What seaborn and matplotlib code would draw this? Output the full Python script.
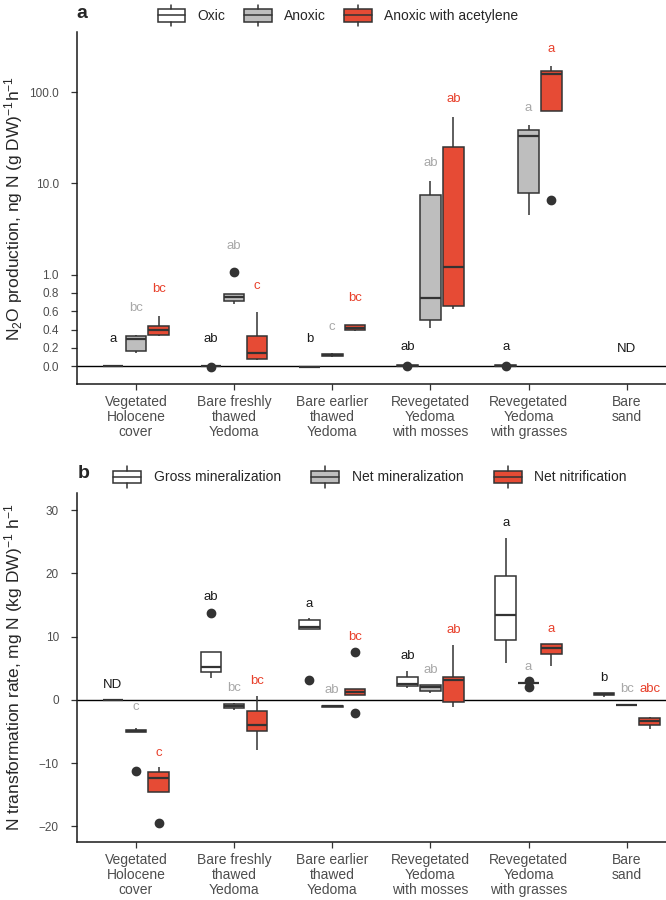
import numpy as np
import pandas as pd
import seaborn as sns
import matplotlib.pyplot as plt
from matplotlib.legend_handler import HandlerBase
from matplotlib.patches import Rectangle, Patch
from matplotlib.lines import Line2D
from matplotlib.ticker import FixedLocator, NullLocator

sites = ["Vegetated\nHolocene\ncover", "Bare freshly\nthawed\nYedoma",
         "Bare earlier\nthawed\nYedoma", "Revegetated\nYedoma\nwith mosses",
         "Revegetated\nYedoma\nwith grasses", "Bare\nsand"]

# panel a: N2O production, ng N (g DW)-1 h-1 (bare sand not determined)
n2o_groups = ["Oxic", "Anoxic", "Anoxic with acetylene"]
n2o_oxic = [[0.004, 0.004, 0.005, 0.005, 0.006],
            [-0.01, 0.003, 0.004, 0.005, 0.006],
            [-0.016, -0.015, -0.014, -0.013, -0.012],
            [0.0, 0.004, 0.005, 0.006, 0.007],
            [0.0, 0.004, 0.005, 0.006, 0.007],
            []]
n2o_anoxic = [[0.14, 0.164, 0.30, 0.325, 0.336],
              [0.68, 0.71, 0.76, 0.788, 1.06],
              [0.10, 0.11, 0.12, 0.131, 0.14],
              [0.42, 0.50, 0.741, 7.4, 10.7],
              [4.47, 7.9, 33.0, 38.2, 43.3],
              []]
n2o_acetylene = [[0.33, 0.336, 0.394, 0.44, 0.55],
                 [0.07, 0.077, 0.146, 0.329, 0.588],
                 [0.387, 0.39, 0.42, 0.446, 0.45],
                 [0.63, 0.66, 1.22, 25.0, 53.9],
                 [6.58, 62.5, 158.0, 170.0, 193.0],
                 []]
n2o_letters = [["a", "ab", "b", "ab", "a", ""],
               ["bc", "ab", "c", "ab", "a", ""],
               ["bc", "c", "bc", "ab", "a", ""]]
n2o_letter_y = [[0.30, 0.30, 0.30, 0.21, 0.21, 0],
                [0.635, 2.08, 0.43, 16.9, 66.5, 0],
                [0.843, 0.88, 0.748, 84.7, 296.0, 0]]

# panel b: N transformation rate, mg N (kg DW)-1 h-1
ntr_groups = ["Gross mineralization", "Net mineralization", "Net nitrification"]
ntr_gross = [[0, 0, 0, 0, 0],
             [3.42, 4.37, 5.16, 7.53, 13.8],
             [3.16, 11.21, 11.58, 12.63, 12.9],
             [1.84, 2.11, 2.47, 3.58, 4.63],
             [5.79, 9.53, 13.42, 19.53, 25.6],
             [0.42, 0.68, 0.9, 1.05, 1.05]]
ntr_netmin = [[-11.3, -5.17, -5.0, -4.85, -4.53],
              [-1.6, -1.31, -0.95, -0.68, -0.5],
              [-1.1, -1.07, -1.05, -1.03, -1.0],
              [1.05, 1.32, 2.0, 2.37, 2.4],
              [2.0, 2.6, 2.6, 2.6, 2.9],
              [-0.82, -0.8, -0.79, -0.78, -0.76]]
ntr_nitr = [[-19.5, -14.6, -12.4, -11.5, -10.7],
            [-7.9, -5.0, -4.05, -1.74, 0.53],
            [-2.1, 0.68, 1.3, 1.74, 7.63],
            [-1.16, -0.42, 3.05, 3.68, 8.68],
            [5.42, 7.26, 8.16, 8.79, 8.8],
            [-4.63, -3.95, -3.42, -2.89, -2.74]]
ntr_letters = [["ND", "ab", "a", "ab", "a", "b"],
               ["c", "bc", "ab", "ab", "a", "bc"],
               ["c", "bc", "bc", "ab", "a", "abc"]]
ntr_letter_y = [[2.26, 16.2, 15.2, 6.95, 28.0, 3.42],
                [-1.1, 1.84, 1.58, 4.74, 5.26, 1.68],
                [-8.4, 2.9, 10.0, 11.05, 11.2, 1.68]]

fills = ["#FFFFFF", "#BEBEBE", "#E64B35"]
text_cols = ["#1A1A1A", "#A8A8A8", "#E8412C"]
EDGE = "#333333"


def long_table(groups, series):
    rows = []
    for g, vals in zip(groups, series):
        for site, v in zip(sites, vals):
            for x in v:
                rows.append({"site": site, "group": g, "value": x})
    return pd.DataFrame(rows)


# linear below 1, log10 above
def fwd(v):
    v = np.asarray(v, dtype=float)
    return np.where(v <= 1, v, 1 + np.log10(np.maximum(v, 1)))


def inv(t):
    t = np.asarray(t, dtype=float)
    return np.where(t <= 1, t, 10 ** (np.minimum(t, 10) - 1))


class BoxKey(HandlerBase):
    def create_artists(self, legend, orig, xd, yd, w, h, fs, trans):
        x0, y0 = -xd, -yd
        cx = x0 + w / 2
        kw = dict(color=EDGE, lw=1.1, transform=trans)
        return [Rectangle((x0, y0 + 0.2 * h), w, 0.6 * h, facecolor=orig.get_facecolor(),
                          edgecolor=EDGE, lw=1.1, transform=trans),
                Line2D([x0, x0 + w], [y0 + h / 2] * 2, **kw),
                Line2D([cx, cx], [y0 + 0.8 * h, y0 + h], **kw),
                Line2D([cx, cx], [y0, y0 + 0.2 * h], **kw)]


sns.set_style("ticks")
plt.rcParams["font.family"] = ["Liberation Sans", "DejaVu Sans"]
plt.rcParams["mathtext.fontset"] = "custom"
plt.rcParams["mathtext.rm"] = "Liberation Sans"
plt.rcParams["mathtext.it"] = "Liberation Sans:italic"

fig = plt.figure(figsize=(6.66, 9), dpi=100)
ax_a = fig.add_axes([77 / 666, 0.5733, 589 / 666, 0.3911])
ax_b = fig.add_axes([77 / 666, 0.0644, 589 / 666, 0.3878])

box_kw = dict(x="site", y="value", hue="group", order=sites, width=0.7, gap=0.1,
              linecolor=EDGE, linewidth=1.1, fliersize=6, legend=False,
              saturation=1, showcaps=False,
              flierprops=dict(marker="o", markerfacecolor=EDGE, markeredgecolor=EDGE),
              medianprops=dict(linewidth=1.6, color=EDGE))

panels = [
    (ax_a, n2o_groups, [n2o_oxic, n2o_anoxic, n2o_acetylene], n2o_letters, n2o_letter_y),
    (ax_b, ntr_groups, [ntr_gross, ntr_netmin, ntr_nitr], ntr_letters, ntr_letter_y),
]

ax_a.set_yscale("function", functions=(fwd, inv))

for ax, groups, series, letters, letter_y in panels:
    df = long_table(groups, series)
    sns.boxplot(data=df, hue_order=groups, palette=dict(zip(groups, fills)), ax=ax, **box_kw)
    ax.axhline(0, color="black", lw=1.0, zorder=0.5)
    ax.set_xlim(-0.6, len(sites) - 0.6)
    slot = 0.7 / 3
    for gi in range(3):
        for si in range(len(sites)):
            lab = letters[gi][si]
            if not lab:
                continue
            ax.text(si + (gi - 1) * slot, letter_y[gi][si], lab, color=text_cols[gi],
                    ha="center", va="center", fontsize=9.5)
    ax.set_xlabel("")
    ax.tick_params(axis="both", colors=EDGE, length=4, width=0.9)
    ax.tick_params(axis="x", labelsize=10, labelcolor="#4D4D4D", pad=4)
    ax.tick_params(axis="y", labelsize=8.5, labelcolor="#4D4D4D", pad=9)
    for lbl in ax.get_xticklabels():
        lbl.set_linespacing(1.1)
    for side in ["top", "right"]:
        ax.spines[side].set_visible(False)
    for side in ["left", "bottom"]:
        ax.spines[side].set_color("#1A1A1A")
        ax.spines[side].set_linewidth(1.1)
    ax.yaxis.set_label_coords(-0.088, 0.5)

    handles = [Patch(facecolor=c) for c in fills]
    if ax is ax_a:
        anchor, colsp = (0.5075, 0.983), 1.3
    else:
        anchor, colsp = (0.5556, 0.47), 2.2
    fig.legend(handles, groups, handler_map={Patch: BoxKey()}, loc="center",
               bbox_to_anchor=anchor, ncol=3, frameon=False, fontsize=10,
               handlelength=2.0, handleheight=2.0, handletextpad=0.9,
               columnspacing=colsp, borderpad=0, borderaxespad=0)

# ND for bare sand in panel a sits at the category centre
ax_a.text(5, 0.19, "ND", color=text_cols[0], ha="center", va="center", fontsize=9.5)

a_ticks = [0, 0.2, 0.4, 0.6, 0.8, 1.0, 10, 100]
ax_a.yaxis.set_major_locator(FixedLocator(a_ticks))
ax_a.yaxis.set_minor_locator(NullLocator())
ax_a.set_yticklabels([f"{t:.1f}" for t in a_ticks])
ax_a.set_ylim(-0.197, float(inv(3.658)))
ax_a.set_ylabel("N$_2$O production, ng N (g DW)$^{-1}$h$^{-1}$", fontsize=12.5)

ax_b.set_yticks([-20, -10, 0, 10, 20, 30])
ax_b.set_ylim(-22.5, 32.7)
ax_b.set_ylabel("N transformation rate, mg N (kg DW)$^{-1}$ h$^{-1}$", fontsize=12.5)

fig.text(82 / 666, 1 - 14 / 900, "a", fontweight="bold", fontsize=14, ha="center", va="center")
fig.text(84 / 666, 1 - 473 / 900, "b", fontweight="bold", fontsize=14, ha="center", va="center")

fig.savefig("out.png", dpi=100)
